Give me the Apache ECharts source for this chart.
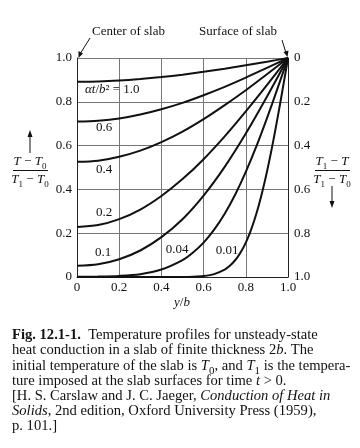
<!DOCTYPE html>
<html><head><meta charset="utf-8">
<script src="https://cdn.jsdelivr.net/npm/echarts@6/dist/echarts.min.js"></script>
<style>html,body{margin:0;padding:0;background:#fff}#c{width:360px;height:448px}</style>
</head><body><div id="c"></div>
<script>
// ---- data ----
const xTicks = ['0', '0.2', '0.4', '0.6', '0.8', '1.0'];
const leftTicks = ['0', '0.2', '0.4', '0.6', '0.8', '1.0'];
const rightTicks = ['0', '0.2', '0.4', '0.6', '0.8', '1.0'];

const xGrid = [0, 0.1, 0.2, 0.3, 0.4, 0.5, 0.6, 0.7, 0.8, 0.9, 1.0];
const theta_100 = [0.892, 0.893, 0.897, 0.904, 0.913, 0.924, 0.937, 0.951, 0.967, 0.983, 1.0];
const theta_060 = [0.710, 0.714, 0.724, 0.742, 0.766, 0.795, 0.830, 0.868, 0.910, 0.955, 1.0];
const theta_040 = [0.526, 0.531, 0.549, 0.577, 0.616, 0.664, 0.721, 0.785, 0.853, 0.926, 1.0];
const theta_020 = [0.228, 0.237, 0.264, 0.308, 0.370, 0.447, 0.538, 0.642, 0.756, 0.876, 1.0];
const theta_010 = [0.051, 0.058, 0.081, 0.121, 0.182, 0.264, 0.372, 0.503, 0.655, 0.823, 1.0];

const x_004 = [0, 0.1, 0.2, 0.3, 0.4, 0.5, 0.55, 0.6, 0.65, 0.7, 0.75, 0.8, 0.85, 0.9, 0.95, 1.0];
const theta_004 = [0.001, 0.002, 0.005, 0.013, 0.034, 0.077, 0.112, 0.157, 0.216, 0.289, 0.377, 0.480, 0.596, 0.724, 0.860, 1.0];

const x_001 = [0, 0.5, 0.55, 0.6, 0.65, 0.7, 0.72, 0.74, 0.76, 0.78, 0.8, 0.82, 0.84, 0.86, 0.88, 0.9, 0.92, 0.94, 0.96, 0.98, 1.0];
const theta_001 = [0, 0.0004, 0.0015, 0.0047, 0.0133, 0.0339, 0.0477, 0.066, 0.0897, 0.1198, 0.1573, 0.2031, 0.2579, 0.3222, 0.3961, 0.4795, 0.5716, 0.6714, 0.7773, 0.8875, 1.0];

const curveNames = ['1.0', '0.6', '0.4', '0.2', '0.1', '0.04', '0.01'];

// ---- build ----
const SERIF = '"Liberation Serif", "DejaVu Serif", serif';
function pairs(xs, ys) { return xs.map((x, i) => [x, ys[i]]); }
const curves = [
  pairs(xGrid, theta_100), pairs(xGrid, theta_060), pairs(xGrid, theta_040),
  pairs(xGrid, theta_020), pairs(xGrid, theta_010), pairs(x_004, theta_004), pairs(x_001, theta_001)
];
function tickFmt(list) { return v => list[Math.round(v / 0.2)]; }

const chart = echarts.init(document.getElementById('c'), null, { renderer: 'canvas' });
function mkRich(fs) {
  const lh = Math.round(fs * 1.45);
  return {
    n: { fontFamily: SERIF, fontSize: fs, color: '#111', lineHeight: lh },
    i: { fontStyle: 'italic', fontFamily: SERIF, fontSize: fs, color: '#111', lineHeight: lh },
    b: { fontWeight: 'bold', fontFamily: SERIF, fontSize: fs, color: '#111', lineHeight: lh },
    s: { fontFamily: SERIF, fontSize: Math.round(fs * 0.72), color: '#111', lineHeight: lh, verticalAlign: 'bottom' }
  };
}
function T(x, y, text, extra, fs) {
  fs = fs || 13;
  return { type: 'text', x, y, style: Object.assign({ text, rich: mkRich(fs), textVerticalAlign: 'middle', fontFamily: SERIF, fontSize: fs, lineHeight: Math.round(fs * 1.45), fill: '#111' }, extra || {}) };
}
function L(x1, y1, x2, y2, w) {
  return { type: 'line', shape: { x1, y1, x2, y2 }, style: { stroke: '#111', lineWidth: w || 1 } };
}
function head(pts) {
  return { type: 'polygon', shape: { points: pts }, style: { fill: '#111' } };
}

const caption = [
  '{b|Fig. 12.1-1.}  Temperature profiles for unsteady-state',
  'heat conduction in a slab of finite thickness 2{i|b}. The',
  'initial temperature of the slab is {i|T}{s|0}, and {i|T}{s|1} is the tempera-',
  'ture imposed at the slab surfaces for time {i|t} > 0.',
  '[H. S. Carslaw and J. C. Jaeger, {i|Conduction of Heat in}',
  '{i|Solids}, 2nd edition, Oxford University Press (1959),',
  'p. 101.]'
];
const capY = [335, 350.5, 366, 381, 396, 411, 426];

const graphics = [
  T(92, 32, 'Center of slab'),
  T(199, 32, 'Surface of slab'),
  L(90, 38, 80, 54), head([[78.5, 58], [78.5, 51], [83, 53.5]]),
  L(282, 40, 286, 53), head([[287.5, 57], [283.5, 52], [288.5, 50.5]]),
  // curve labels
  T(85, 90, '{i|αt}/{i|b}² = 1.0'),
  T(104, 128, '0.6', { textAlign: 'center' }),
  T(104, 170, '0.4', { textAlign: 'center' }),
  T(104, 213, '0.2', { textAlign: 'center' }),
  T(103, 253, '0.1', { textAlign: 'center' }),
  T(177, 250, '0.04', { textAlign: 'center' }),
  T(227, 251, '0.01', { textAlign: 'center' }),
  // left axis title
  L(30, 153, 30, 134), head([[30, 130], [27.5, 137], [32.5, 137]]),
  T(30, 162, '{i|T} − {i|T}{s|0}', { textAlign: 'center' }),
  L(13, 170.5, 48, 170.5),
  T(30, 180, '{i|T}{s|1} − {i|T}{s|0}', { textAlign: 'center' }),
  // right axis title
  T(332, 162, '{i|T}{s|1} − {i|T}', { textAlign: 'center' }),
  L(315, 170.5, 350, 170.5),
  T(332, 180, '{i|T}{s|1} − {i|T}{s|0}', { textAlign: 'center' }),
  L(332, 186, 332, 204), head([[332, 208], [329.5, 201], [334.5, 201]]),
  // x axis name
  T(182, 303, '{i|y}/{i|b}', { textAlign: 'center' })
].concat(caption.map((s, k) => T(12, capY[k], s, null, 14.6)));

chart.setOption({
  animation: false,
  backgroundColor: '#fff',
  grid: { left: 77, right: 72, top: 58, bottom: 171, containLabel: false },
  xAxis: {
    type: 'value', min: 0, max: 1, interval: 0.2,
    axisLine: { show: true, onZero: false, lineStyle: { color: '#222', width: 1 } },
    axisTick: { show: false },
    splitLine: { show: true, lineStyle: { color: '#777', width: 1 } },
    axisLabel: { formatter: tickFmt(xTicks), color: '#111', fontFamily: SERIF, fontSize: 13, margin: 4 }
  },
  yAxis: [
    {
      type: 'value', min: 0, max: 1, interval: 0.2, position: 'left',
      axisLine: { show: true, lineStyle: { color: '#222', width: 1 } },
      axisTick: { show: false },
      splitLine: { show: true, lineStyle: { color: '#777', width: 1 } },
      axisLabel: { formatter: tickFmt(leftTicks), color: '#111', fontFamily: SERIF, fontSize: 13, margin: 5 }
    },
    {
      type: 'value', min: 0, max: 1, interval: 0.2, position: 'right', inverse: true,
      axisLine: { show: true, lineStyle: { color: '#222', width: 1 } },
      axisTick: { show: false },
      splitLine: { show: false },
      axisLabel: { formatter: tickFmt(rightTicks), color: '#111', fontFamily: SERIF, fontSize: 13, margin: 6 }
    }
  ],
  series: curves.map((d, k) => ({
    name: curveNames[k], type: 'line', data: d, xAxisIndex: 0, yAxisIndex: 0,
    showSymbol: false, symbol: 'none', smooth: 0.3, z: 5,
    lineStyle: { color: '#111', width: 2 }
  })),
  graphic: graphics
});
</script></body></html>
